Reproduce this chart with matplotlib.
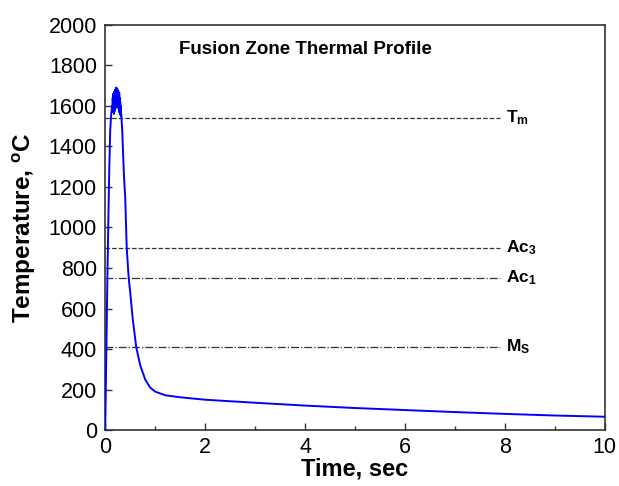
import matplotlib
matplotlib.use("Agg")
import matplotlib.pyplot as plt
from matplotlib.ticker import MultipleLocator

plt.rcParams['font.family'] = ['Liberation Sans', 'DejaVu Sans']
plt.rcParams['mathtext.fontset'] = 'custom'
plt.rcParams['mathtext.rm'] = 'Liberation Sans'
plt.rcParams['mathtext.bf'] = 'Liberation Sans:bold'

# Thermal profile (time in s, temperature in C)
rise_time = [0.0, 0.02, 0.04, 0.06, 0.08, 0.10, 0.12, 0.14]
rise_temp = [0, 350, 700, 1000, 1280, 1480, 1560, 1600]

peak_time = [0.145, 0.15, 0.155, 0.16, 0.165, 0.17, 0.175, 0.18, 0.185, 0.19,
             0.195, 0.20, 0.205, 0.21, 0.215, 0.22, 0.225, 0.23, 0.235, 0.24,
             0.245, 0.25, 0.255, 0.26, 0.265, 0.27, 0.275, 0.28, 0.285, 0.29,
             0.295, 0.30, 0.305, 0.31, 0.315, 0.32]
peak_temp = [1570, 1640, 1580, 1660, 1590, 1650, 1560, 1670, 1600, 1655,
             1575, 1680, 1610, 1665, 1590, 1690, 1620, 1670, 1600, 1685,
             1630, 1660, 1590, 1675, 1610, 1650, 1570, 1665, 1580, 1640,
             1560, 1620, 1555, 1600, 1550, 1560]

cool_time = [0.34, 0.36, 0.38, 0.40, 0.43, 0.47, 0.50, 0.55, 0.62, 0.70, 0.80,
             0.90, 1.0, 1.2, 1.5, 2.0, 3.0, 4.0, 5.0, 6.0, 7.0, 8.0, 9.0, 10.0]
cool_temp = [1480, 1350, 1230, 1150, 900, 750, 680, 550, 410, 320, 250,
             210, 190, 172, 162, 150, 135, 121, 109, 99, 89, 80, 72, 66]

time = rise_time + peak_time + cool_time
temp = rise_temp + peak_temp + cool_temp

# Reference temperatures
ref_names = [r'$\mathbf{T_m}$', r'$\mathbf{Ac_3}$', r'$\mathbf{Ac_1}$', r'$\mathbf{M_S}$']
ref_temps = [1540, 900, 750, 410]
ref_styles = ['--', '--', '-.', '-.']
ref_end = 7.9

fig = plt.figure(figsize=(6.19, 4.86), dpi=100)
ax = fig.add_axes([0.170, 0.115, 0.807, 0.834])

ax.plot(time, temp, color='#0000ff', lw=1.4, zorder=3)

for name, tv, ls in zip(ref_names, ref_temps, ref_styles):
    ax.plot([0, ref_end], [tv, tv], ls=ls, color='#333333', lw=0.9, zorder=2)
    ax.text(ref_end + 0.12, tv, name, fontsize=12.5, fontweight='bold',
            va='center', ha='left')

ax.text(4.0, 1880, 'Fusion Zone Thermal Profile', fontsize=13.5,
        fontweight='bold', ha='center', va='center')

ax.set_xlim(0, 10)
ax.set_ylim(0, 2000)
ax.xaxis.set_major_locator(MultipleLocator(2))
ax.xaxis.set_minor_locator(MultipleLocator(1))
ax.yaxis.set_major_locator(MultipleLocator(200))
ax.tick_params(axis='both', which='major', direction='in', length=5, width=1,
               labelsize=15.5, color='#333333', top=False, right=False, pad=6)
ax.tick_params(axis='x', which='major', pad=5)
ax.tick_params(axis='x', which='minor', direction='in', length=3, width=1,
               color='#333333', top=False)
for s in ax.spines.values():
    s.set_color('#333333')
    s.set_linewidth(1.2)

ax.set_xlabel('Time, sec', fontsize=17, fontweight='bold')
ax.set_ylabel(r'Temperature, $\mathregular{^{o}}$C', fontsize=17.5,
              fontweight='bold')
ax.xaxis.set_label_coords(0.5, -0.068)
ax.yaxis.set_label_coords(-0.135, 0.5)

fig.savefig('out.png', dpi=100)
